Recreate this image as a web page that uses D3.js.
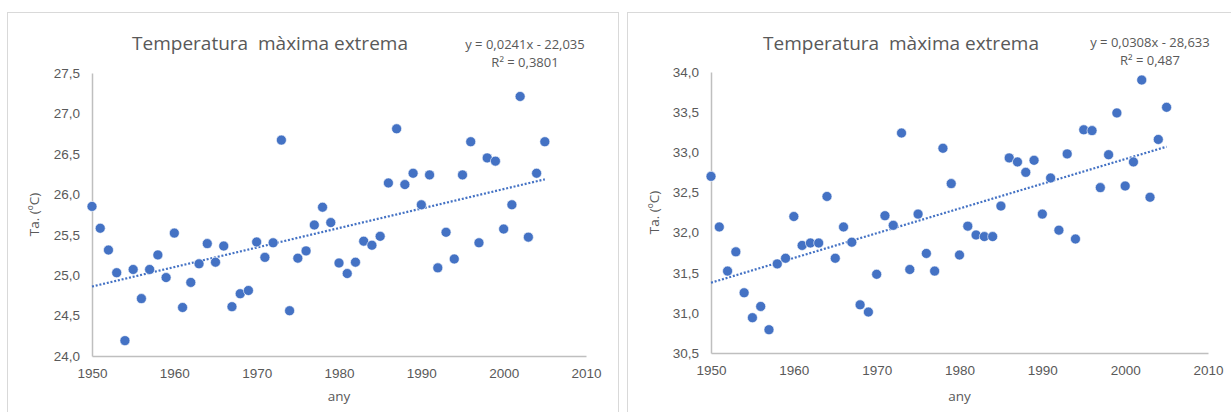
<!DOCTYPE html>
<html>
<head>
<meta charset="utf-8">
<script src="https://cdn.jsdelivr.net/npm/d3@7"></script>
<style>
  body { margin: 0; background: #fff; }
  svg { display: block; font-family: "Open Sans", sans-serif; }
</style>
</head>
<body>
<svg width="1231" height="412"></svg>
<script>
const years = d3.range(1950, 2006);

// left chart: Temperatura màxima extrema (first station)
const tmaxA = [
  25.85, 25.58, 25.31, 25.03, 24.19, 25.07, 24.71, 25.07, 25.25, 24.97,
  25.52, 24.60, 24.91, 25.14, 25.39, 25.16, 25.36, 24.61, 24.77, 24.81,
  25.41, 25.22, 25.40, 26.67, 24.56, 25.21, 25.30, 25.62, 25.84, 25.65,
  25.15, 25.02, 25.16, 25.42, 25.37, 25.48, 26.14, 26.81, 26.12, 26.26,
  25.87, 26.24, 25.09, 25.53, 25.20, 26.24, 26.65, 25.40, 26.45, 26.41,
  25.57, 25.87, 27.21, 25.47, 26.26, 26.65
];

// right chart: Temperatura màxima extrema (second station)
const tmaxB = [
  32.70, 32.07, 31.52, 31.76, 31.25, 30.94, 31.08, 30.79, 31.61, 31.68,
  32.20, 31.84, 31.87, 31.87, 32.45, 31.68, 32.07, 31.88, 31.10, 31.01,
  31.48, 32.21, 32.09, 33.24, 31.54, 32.23, 31.74, 31.52, 33.05, 32.61,
  31.72, 32.08, 31.97, 31.95, 31.95, 32.33, 32.93, 32.88, 32.75, 32.90,
  32.23, 32.68, 32.03, 32.98, 31.92, 33.28, 33.27, 32.56, 32.97, 33.49,
  32.58, 32.88, 33.90, 32.44, 33.16, 33.56
];

const xTicks = [1950, 1960, 1970, 1980, 1990, 2000, 2010];
const yTicksA = [24.0, 24.5, 25.0, 25.5, 26.0, 26.5, 27.0, 27.5];
const yTicksB = [30.5, 31.0, 31.5, 32.0, 32.5, 33.0, 33.5, 34.0];
const titleText = "Temperatura  màxima extrema";
const eqA = ["y = 0,0241x - 22,035", "R² = 0,3801"];
const eqB = ["y = 0,0308x - 28,633", "R² = 0,487"];

const caLocale = d3.formatLocale({decimal: ",", thousands: ".", grouping: [3], currency: ["", "€"]});
const fmt1 = caLocale.format(".1f");

const svg = d3.select("svg");
const blue = "#4472c4";
const textGrey = "#595959";

function linReg(xs, ys) {
  const mx = d3.mean(xs), my = d3.mean(ys);
  let sxy = 0, sxx = 0;
  xs.forEach((x, i) => { sxy += (x - mx) * (ys[i] - my); sxx += (x - mx) * (x - mx); });
  const b = sxy / sxx;
  return {b: b, a: my - b * mx};
}

function drawChart(cfg) {
  const g = svg.append("g");

  // chart frame
  g.append("rect")
    .attr("x", cfg.frame[0] + 0.5).attr("y", 12.5)
    .attr("width", cfg.frame[1] - cfg.frame[0]).attr("height", 420)
    .attr("fill", "#fff").attr("stroke", "#d9d9d9");

  const x = d3.scaleLinear().domain([1950, 2010]).range([cfg.left, cfg.right]);
  const y = d3.scaleLinear().domain(d3.extent(cfg.yTicks)).range([cfg.bottom, cfg.top]);

  const xAxis = d3.axisBottom(x).tickValues(xTicks).tickFormat(d3.format("d")).tickSize(0).tickPadding(12);
  g.append("g")
    .attr("transform", `translate(0, ${cfg.bottom})`)
    .call(xAxis)
    .call(a => a.select(".domain").attr("stroke", "#bfbfbf").attr("stroke-width", 1.5))
    .call(a => a.selectAll("text").attr("fill", textGrey).attr("font-size", 13.5));

  const yAxis = d3.axisLeft(y).tickValues(cfg.yTicks).tickFormat(fmt1).tickSize(0).tickPadding(12);
  g.append("g")
    .attr("transform", `translate(${cfg.left}, 0)`)
    .call(yAxis)
    .call(a => a.select(".domain").attr("stroke", "#bfbfbf").attr("stroke-width", 1.5))
    .call(a => a.selectAll("text").attr("fill", textGrey).attr("font-size", 13.5));

  // trend line
  const fit = linReg(years, cfg.values);
  const x0 = years[0], x1 = years[years.length - 1];
  g.append("line")
    .attr("x1", x(x0)).attr("y1", y(fit.a + fit.b * x0))
    .attr("x2", x(x1)).attr("y2", y(fit.a + fit.b * x1))
    .attr("stroke", blue).attr("stroke-width", 2.2)
    .attr("stroke-dasharray", "2,1.8");

  g.selectAll("circle")
    .data(years)
    .enter()
    .append("circle")
    .attr("cx", d => x(d))
    .attr("cy", (d, i) => y(cfg.values[i]))
    .attr("r", 5)
    .attr("fill", blue)
    .attr("stroke", "#fff").attr("stroke-width", 0.6);

  // texts
  g.append("text")
    .attr("x", cfg.titleX).attr("y", 50)
    .attr("text-anchor", "middle")
    .attr("fill", textGrey).attr("font-size", 19)
    .style("white-space", "pre")
    .text(titleText);

  g.selectAll(".eq")
    .data(cfg.eq)
    .enter()
    .append("text")
    .attr("x", cfg.eqX)
    .attr("y", (d, i) => cfg.eqY + i * 18)
    .attr("text-anchor", "middle")
    .attr("fill", textGrey).attr("font-size", 13)
    .text(d => d);

  g.append("text")
    .attr("transform", `translate(${cfg.frame[0] + 32}, ${(cfg.top + cfg.bottom) / 2}) rotate(-90)`)
    .attr("text-anchor", "middle")
    .attr("fill", textGrey).attr("font-size", 13.5)
    .text("Ta. (ºC)");

  g.append("text")
    .attr("x", (cfg.left + cfg.right) / 2).attr("y", 401)
    .attr("text-anchor", "middle")
    .attr("fill", textGrey).attr("font-size", 13.5)
    .text("any");
}

drawChart({
  frame: [7, 618], left: 92, right: 586, top: 73, bottom: 356,
  values: tmaxA, yTicks: yTicksA, titleX: 270, eq: eqA, eqX: 525, eqY: 49
});
drawChart({
  frame: [627, 1260], left: 711, right: 1208, top: 72, bottom: 353,
  values: tmaxB, yTicks: yTicksB, titleX: 901, eq: eqB, eqX: 1150, eqY: 47
});
</script>
</body>
</html>
